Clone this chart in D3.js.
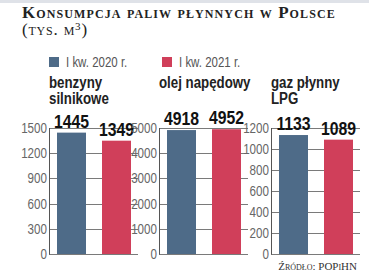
<!DOCTYPE html>
<html>
<head>
<meta charset="utf-8">
<script src="https://cdn.jsdelivr.net/npm/d3@7"></script>
<style>
  body { margin: 0; background: #fff; }
  svg { display: block; }
</style>
</head>
<body>
<svg id="chart" width="369" height="274"></svg>
<script>
const w = 369, h = 274;

// data
const categories = [["benzyny", "silnikowe"], ["olej napędowy"], ["gaz płynny", "LPG"]];
const series = ["I kw. 2020 r.", "I kw. 2021 r."];
const values2020 = [1445, 4918, 1133];
const values2021 = [1349, 4952, 1089];
const axisMax = [1500, 5000, 1200];
const tickStep = [300, 1000, 200];

const colors = ["#4e6b88", "#d03f5a"];
const sans = "'Liberation Sans', Arial, sans-serif";
const serif = "'Liberation Serif', 'DejaVu Serif', serif";

const svg = d3.select("#chart");

// fake a condensed face: squeeze the glyphs horizontally
function squeeze(sel, f = 0.83) {
  sel.each(function () {
    const len = this.getComputedTextLength();
    d3.select(this).attr("textLength", len * f).attr("lengthAdjust", "spacingAndGlyphs");
  });
  return sel;
}

// top strip
svg.append("rect").attr("x", 0).attr("y", 0).attr("width", w).attr("height", 3).attr("fill", "#dfe2e8");

// title
svg.append("text")
  .attr("x", 22).attr("y", 18)
  .style("font-family", serif).style("font-weight", "bold")
  .style("font-variant", "small-caps").style("font-size", "17px")
  .style("letter-spacing", "1.1px")
  .attr("fill", "#222")
  .text("Konsumpcja paliw płynnych w Polsce");

const sub = svg.append("text")
  .attr("x", 22).attr("y", 35)
  .style("font-family", serif).style("font-variant", "small-caps")
  .style("font-size", "17px").style("letter-spacing", "0.8px").attr("fill", "#222");
sub.append("tspan").text("(tys. m");
sub.append("tspan").attr("dy", -5).style("font-size", "11px").text("3");
sub.append("tspan").attr("dy", 5).text(")");

// legend
const legX = [49, 162];
series.forEach((s, i) => {
  svg.append("rect").attr("x", legX[i]).attr("y", 57).attr("width", 10).attr("height", 10).attr("fill", colors[i]);
  svg.append("text").attr("x", legX[i] + 17).attr("y", 67)
    .style("font-family", sans).style("font-size", "14px").attr("fill", "#555")
    .text(s).call(squeeze, 0.82);
});

// panels
const axisX = [49, 159, 271];
const panelW = 90;
const plotTop = 128, plotBottom = 254;

const xb = d3.scaleBand().domain([0, 1]).range([0, panelW]).paddingInner(16 / 45).paddingOuter(8 / 45);

categories.forEach((cat, p) => {
  const g = svg.append("g").attr("transform", `translate(${axisX[p]},0)`);
  const y = d3.scaleLinear().domain([0, axisMax[p]]).range([plotBottom, plotTop]);
  const ticks = d3.range(0, axisMax[p] + 1, tickStep[p]);

  // category title
  cat.forEach((line, li) => {
    g.append("text").attr("x", 0).attr("y", 88 + li * 16)
      .style("font-family", sans).style("font-weight", "bold").style("font-size", "16px")
      .attr("fill", "#222").text(line).call(squeeze, 0.83);
  });

  // gridlines + tick labels
  g.selectAll(".grid").data(ticks).join("line")
    .attr("x1", 0).attr("x2", panelW - 1)
    .attr("y1", d => Math.round(y(d)) + 0.5).attr("y2", d => Math.round(y(d)) + 0.5)
    .attr("stroke", "#7a7a7a").attr("stroke-width", 1);
  g.selectAll(".tl").data(ticks).join("text")
    .attr("x", -2).attr("y", d => y(d)).attr("dy", "0.36em")
    .attr("text-anchor", "end")
    .style("font-family", sans).style("font-size", "14px").attr("fill", "#666")
    .text(d => d).call(squeeze, 0.83);

  g.append("line").attr("x1", 0.5).attr("x2", 0.5).attr("y1", plotTop).attr("y2", plotBottom + 0.5)
    .attr("stroke", "#555").attr("stroke-width", 1);

  // bars
  const vals = [values2020[p], values2021[p]];
  g.selectAll(".bar").data(vals).join("rect")
    .attr("x", (d, i) => xb(i)).attr("width", xb.bandwidth())
    .attr("y", d => y(d)).attr("height", d => plotBottom - y(d))
    .attr("fill", (d, i) => colors[i]);

  g.selectAll(".val").data(vals).join("text")
    .attr("x", (d, i) => xb(i) + xb.bandwidth() / 2).attr("y", d => y(d) - 5)
    .attr("text-anchor", "middle")
    .style("font-family", sans).style("font-weight", "bold").style("font-size", "19px")
    .attr("fill", "#111").text(d => d).call(squeeze, 0.83);
});

// source
svg.append("text")
  .attr("x", 357).attr("y", 270).attr("text-anchor", "end")
  .style("font-family", serif).style("font-variant", "small-caps").style("font-size", "11px")
  .attr("fill", "#333")
  .text("Źródło: POPiHN");
</script>
</body>
</html>
